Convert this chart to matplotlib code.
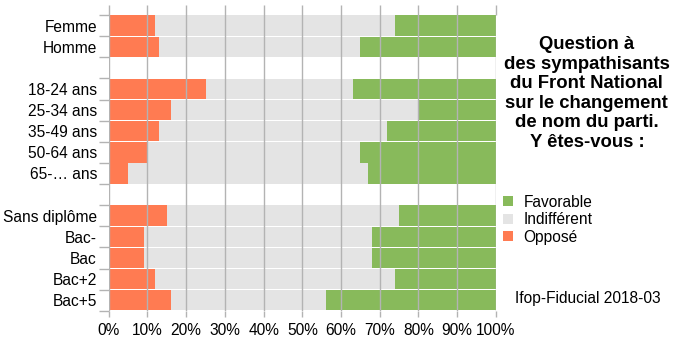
import numpy as np
import matplotlib.pyplot as plt

plt.rcParams['font.family'] = ['Liberation Sans', 'DejaVu Sans']

groupes = [
    ["Femme", "Homme"],
    ["18-24 ans", "25-34 ans", "35-49 ans", "50-64 ans", "65-… ans"],
    ["Sans diplôme", "Bac-", "Bac", "Bac+2", "Bac+5"],
]
oppose = [12, 13, 25, 16, 13, 10, 5, 15, 9, 9, 12, 16]
favorable = [26, 35, 37, 20, 28, 35, 33, 25, 32, 32, 26, 44]
indifferent = [100 - o - f for o, f in zip(oppose, favorable)]

c_opp = "#ff7b52"
c_ind = "#e4e4e4"
c_fav = "#88ba5b"
c_grid = "#b3b3b3"
fs = 11.2

# positions : une ligne vide entre les groupes, de haut en bas
labels, pos = [], []
k = 0
for g in groupes:
    for lab in g:
        labels.append(lab)
        pos.append(k)
        k += 1
    k += 1
n_slots = k - 1
pos = np.array(pos)

fig = plt.figure(figsize=(6.84, 3.43), dpi=100)
ax = fig.add_axes([0.159, 0.094, 0.566, 0.862])

h = 0.97
ax.barh(pos, oppose, height=h, color=c_opp, label="Opposé", zorder=2)
ax.barh(pos, indifferent, left=oppose, height=h, color=c_ind,
        label="Indifférent", zorder=2)
ax.barh(pos, favorable, left=np.array(oppose) + np.array(indifferent),
        height=h, color=c_fav, label="Favorable", zorder=2)

ax.set_xlim(0, 100)
ax.set_ylim(n_slots - 0.5, -0.5)

xt = np.arange(0, 101, 10)
ax.set_xticks(xt)
ax.set_xticklabels([f"{v}%" for v in xt], fontsize=fs)
ax.grid(axis="x", color=c_grid, linewidth=1, zorder=3)
ax.set_axisbelow(False)
ax.tick_params(axis="x", which="major", length=4, color=c_grid, width=1, pad=5)

# petits traits au-dessus du cadre
top = ax.secondary_xaxis("top")
top.set_xticks(xt)
top.set_xticklabels([])
top.tick_params(length=7, color=c_grid, width=1)
top.spines["top"].set_visible(False)

# limites de lignes en tirets, libellés centrés sans trait
ax.set_yticks(np.arange(-0.5, n_slots, 1.0))
ax.set_yticklabels([])
ax.tick_params(axis="y", which="major", length=7, color=c_grid, width=1)
ax.set_yticks(pos, minor=True)
ax.set_yticklabels(labels, minor=True, fontsize=fs)
ax.tick_params(axis="y", which="minor", length=0, pad=8.5)

for s in ax.spines.values():
    s.set_visible(False)

fig.text(0.858, 0.895,
         "Question à\ndes sympathisants\ndu Front National\nsur le changement\n"
         "de nom du parti.\nY êtes-vous :",
         ha="center", va="top", fontsize=13.3, fontweight="bold",
         linespacing=1.2)

handles, labs = ax.get_legend_handles_labels()
fig.legend(handles[::-1], labs[::-1], loc="upper left",
           bbox_to_anchor=(0.727, 0.45), frameon=False, fontsize=fs,
           handlelength=0.6, handleheight=0.6, handletextpad=0.7,
           labelspacing=0.15, borderaxespad=0)

fig.text(0.753, 0.13, "Ifop-Fiducial 2018-03", fontsize=fs, va="center")

fig.savefig("out.png", dpi=100)
